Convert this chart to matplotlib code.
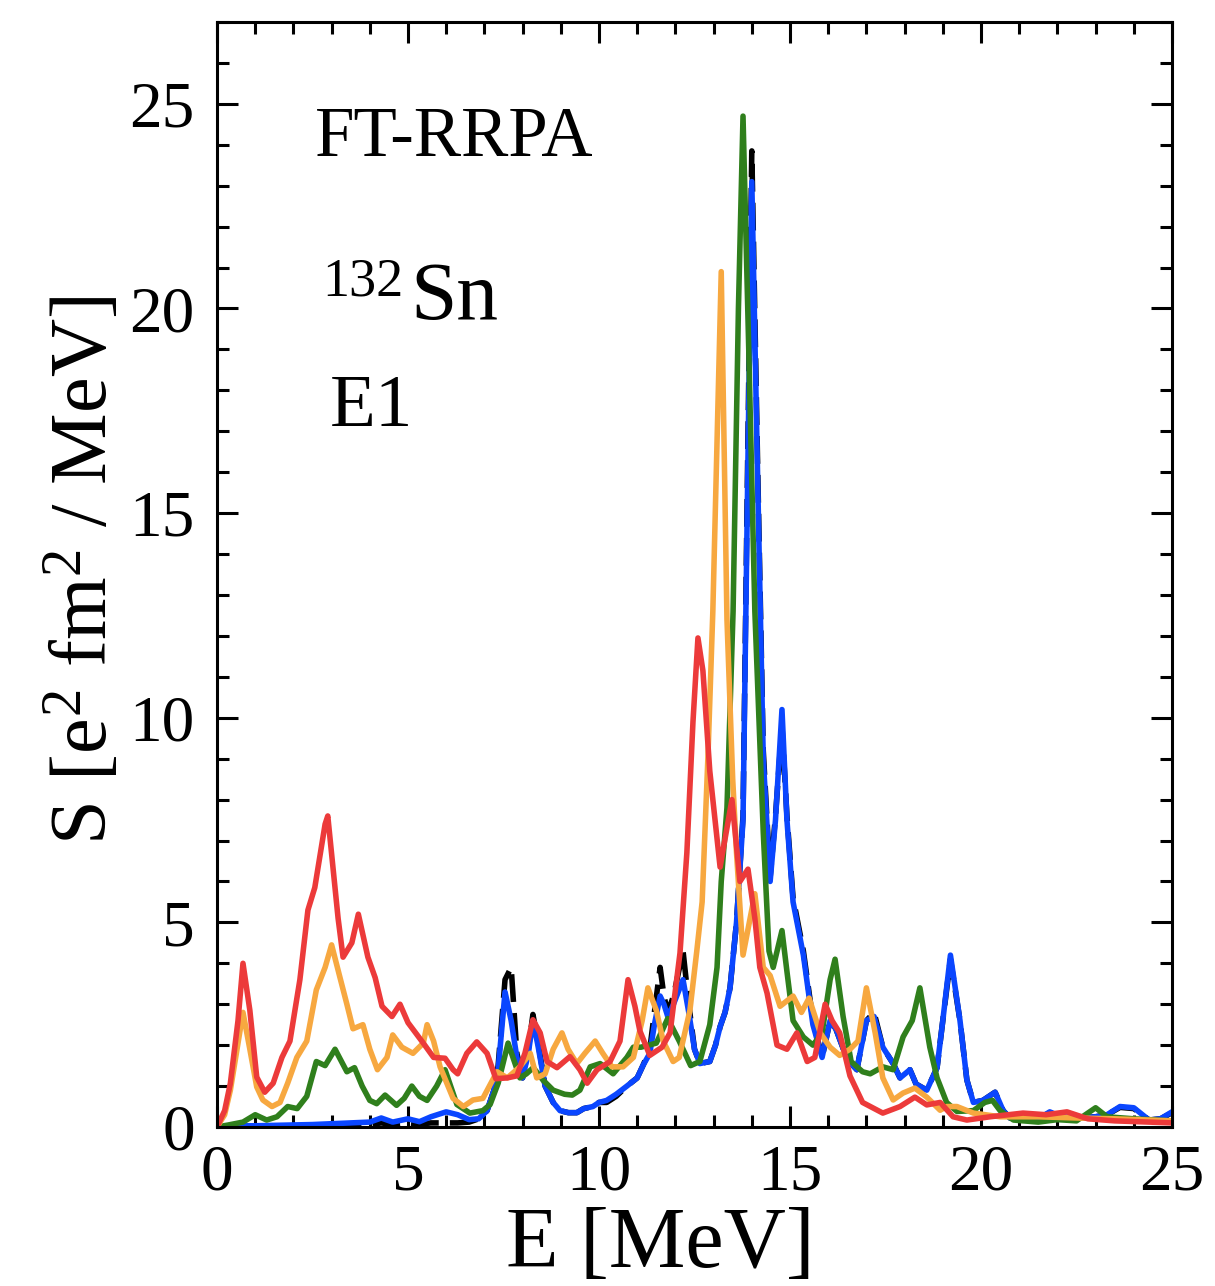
import matplotlib
matplotlib.use("Agg")
import matplotlib.pyplot as plt
from matplotlib.ticker import MultipleLocator

plt.rcParams['font.family'] = ['Liberation Serif', 'DejaVu Serif']
plt.rcParams['mathtext.fontset'] = 'custom'
plt.rcParams['mathtext.rm'] = 'Liberation Serif'
plt.rcParams['mathtext.it'] = 'Liberation Serif:italic'

# ---------------- data ----------------
E_blue = [0.0, 0.5, 1.0, 1.5, 2.0, 2.5, 3.0, 3.5, 4.0, 4.3, 4.6, 5.0, 5.3, 5.6, 6.0, 6.3,
          6.6, 6.85, 7.07, 7.25, 7.36, 7.54, 7.7, 7.85, 8.0, 8.15, 8.27, 8.4, 8.59, 8.8,
          8.98, 9.2, 9.42, 9.6, 9.84, 10.0, 10.2, 10.45, 10.73, 11.0, 11.15, 11.33, 11.45,
          11.6, 11.7, 11.8, 11.95, 12.2, 12.35, 12.5, 12.64, 12.9, 13.05, 13.17, 13.3,
          13.43, 13.6, 13.77, 13.88, 14.0, 14.15, 14.3, 14.48, 14.62, 14.79, 14.92, 15.08,
          15.35, 15.6, 15.84, 16.05, 16.2, 16.5, 16.75, 17.0, 17.2, 17.43, 17.7, 17.88,
          18.14, 18.3, 18.58, 18.85, 19.0, 19.2, 19.45, 19.63, 19.8, 20.05, 20.37, 20.58,
          20.76, 21.2, 21.5, 21.8, 22.1, 22.6, 23.0, 23.3, 23.64, 24.0, 24.4, 24.7, 25.0]
S_blue = [0.0, 0.03, 0.03, 0.04, 0.05, 0.06, 0.08, 0.1, 0.12, 0.22, 0.12, 0.2, 0.13, 0.25,
          0.37, 0.3, 0.18, 0.2, 0.4, 0.9, 1.4, 3.3, 2.6, 1.7, 1.2, 1.8, 2.6, 2.0, 1.0, 0.6,
          0.4, 0.35, 0.35, 0.45, 0.5, 0.6, 0.65, 0.8, 1.0, 1.2, 1.5, 1.8, 2.5, 3.2, 3.0,
          2.7, 3.0, 3.6, 2.8, 1.9, 1.55, 1.6, 2.0, 2.45, 2.8, 3.4, 5.0, 7.5, 15.0, 23.1,
          16.0, 9.0, 6.0, 7.5, 10.2, 7.5, 5.5, 4.2, 2.5, 1.7, 2.6, 2.4, 1.65, 1.4, 2.6,
          2.7, 1.95, 1.55, 1.2, 1.4, 1.05, 0.9, 1.45, 2.6, 4.2, 2.6, 1.15, 0.6, 0.65, 0.85,
          0.4, 0.22, 0.18, 0.2, 0.37, 0.25, 0.22, 0.25, 0.3, 0.5, 0.47, 0.17, 0.2, 0.37]

E_black = E_blue
S_black = [0.0, 0.02, 0.02, 0.02, 0.03, 0.03, 0.04, 0.05, 0.06, 0.1, 0.06, 0.1, 0.07, 0.1,
           0.1, 0.1, 0.12, 0.2, 0.4, 0.9, 1.5, 3.6, 3.9, 1.8, 1.2, 1.9, 2.75, 2.1, 1.0, 0.6,
           0.4, 0.35, 0.35, 0.45, 0.5, 0.6, 0.6, 0.75, 1.0, 1.2, 1.5, 1.9, 2.8, 3.9, 3.2,
           2.8, 3.2, 4.3, 3.0, 1.9, 1.55, 1.6, 2.0, 2.45, 2.8, 3.4, 5.0, 7.6, 15.5, 23.85,
           16.3, 9.2, 6.1, 7.6, 9.8, 7.6, 5.6, 4.3, 2.6, 1.7, 2.6, 2.4, 1.65, 1.4, 2.6,
           2.8, 1.95, 1.55, 1.2, 1.4, 1.05, 0.9, 1.45, 2.6, 4.1, 2.6, 1.15, 0.6, 0.65, 0.85,
           0.4, 0.22, 0.18, 0.2, 0.35, 0.25, 0.22, 0.25, 0.3, 0.48, 0.45, 0.17, 0.2, 0.35]

E_green = [0.0, 0.3, 0.68, 1.0, 1.3, 1.57, 1.85, 2.1, 2.35, 2.6, 2.83, 3.09, 3.4, 3.6, 3.8,
           4.0, 4.18, 4.4, 4.7, 4.9, 5.1, 5.3, 5.5, 5.75, 5.97, 6.28, 6.62, 6.96, 7.15, 7.36,
           7.62, 7.93, 8.1, 8.28, 8.53, 8.8, 9.1, 9.3, 9.5, 9.77, 10.03, 10.37, 10.73, 10.9,
           11.1, 11.5, 11.8, 12.1, 12.4, 12.64, 12.9, 13.09, 13.2, 13.35, 13.51, 13.65,
           13.77, 13.92, 14.08, 14.3, 14.45, 14.56, 14.79, 14.92, 15.08, 15.35, 15.6, 15.84,
           16.05, 16.18, 16.39, 16.6, 16.9, 17.1, 17.43, 17.7, 17.96, 18.2, 18.4, 18.66,
           18.85, 19.1, 19.37, 19.8, 20.1, 20.3, 20.5, 20.85, 21.5, 22.0, 22.5, 23.0, 23.3,
           24.0, 25.0]
S_green = [0.0, 0.05, 0.12, 0.3, 0.17, 0.25, 0.5, 0.45, 0.75, 1.6, 1.5, 1.9, 1.35, 1.45,
           1.0, 0.65, 0.57, 0.78, 0.53, 0.7, 1.0, 0.75, 0.65, 1.0, 1.4, 0.55, 0.34, 0.4,
           0.55, 1.07, 2.05, 1.2, 1.3, 1.45, 1.15, 0.9, 0.8, 0.78, 0.9, 1.47, 1.55, 1.3, 1.7,
           1.95, 1.95, 2.05, 2.65, 2.1, 1.5, 1.6, 2.5, 3.9, 6.0, 7.8, 12.6, 20.0, 24.7, 19.0,
           12.6, 7.2, 4.3, 3.9, 4.8, 3.8, 2.6, 2.2, 2.0, 2.3, 3.6, 4.1, 2.7, 1.6, 1.35, 1.3,
           1.47, 1.4, 2.2, 2.6, 3.4, 1.95, 1.2, 0.6, 0.38, 0.4, 0.6, 0.65, 0.4, 0.17, 0.12,
           0.18, 0.15, 0.47, 0.25, 0.2, 0.15]

E_orange = [0.0, 0.2, 0.35, 0.55, 0.68, 0.86, 1.04, 1.2, 1.44, 1.65, 1.85, 2.09, 2.35, 2.6,
            2.83, 3.0, 3.22, 3.4, 3.56, 3.82, 4.0, 4.2, 4.45, 4.6, 4.84, 5.13, 5.4, 5.5, 5.67,
            5.84, 6.18, 6.45, 6.7, 6.96, 7.33, 7.6, 7.93, 8.2, 8.37, 8.59, 8.8, 9.03, 9.19,
            9.42, 9.63, 9.9, 10.1, 10.34, 10.63, 10.9, 11.13, 11.28, 11.5, 11.68, 11.94, 12.1,
            12.38, 12.56, 12.7, 12.85, 12.98, 13.2, 13.35, 13.5, 13.6, 13.77, 14.08, 14.3,
            14.48, 14.74, 15.08, 15.3, 15.5, 15.79, 16.05, 16.3, 16.57, 16.78, 17.0, 17.23,
            17.43, 17.7, 17.96, 18.27, 18.58, 18.93, 19.1, 19.37, 19.8, 20.5, 21.5, 22.5,
            23.5, 25.0]
S_orange = [0.0, 0.3, 0.9, 2.05, 2.8, 1.9, 0.98, 0.66, 0.5, 0.6, 1.07, 1.7, 2.1, 3.35, 3.9,
            4.45, 3.65, 3.0, 2.4, 2.5, 1.9, 1.4, 1.7, 2.25, 1.95, 1.8, 2.05, 2.5, 2.1, 1.47,
            0.7, 0.5, 0.66, 0.7, 1.35, 1.2, 1.47, 1.8, 1.2, 1.3, 1.9, 2.3, 1.9, 1.55, 1.8,
            2.1, 1.8, 1.47, 1.47, 1.7, 2.6, 3.4, 2.85, 2.1, 1.6, 1.7, 2.85, 4.3, 5.5, 9.0,
            12.6, 20.9, 12.4, 8.5, 6.7, 4.2, 5.7, 3.9, 3.7, 2.95, 3.2, 2.8, 3.15, 2.3, 1.95,
            1.75, 1.9, 2.1, 3.4, 2.3, 1.2, 0.66, 0.83, 0.95, 0.73, 0.41, 0.5, 0.5, 0.34, 0.25,
            0.25, 0.22, 0.2, 0.15]

E_red = [0.0, 0.2, 0.35, 0.55, 0.68, 0.86, 1.04, 1.25, 1.47, 1.7, 1.91, 2.17, 2.38, 2.56,
         2.83, 2.9, 3.17, 3.3, 3.53, 3.7, 3.95, 4.14, 4.32, 4.58, 4.79, 5.0, 5.24, 5.4, 5.67,
         5.97, 6.18, 6.3, 6.54, 6.8, 7.07, 7.3, 7.6, 7.85, 8.06, 8.27, 8.46, 8.64, 8.9, 9.24,
         9.5, 9.69, 9.95, 10.29, 10.55, 10.76, 10.94, 11.07, 11.33, 11.65, 11.86, 12.12,
         12.3, 12.46, 12.59, 12.72, 12.9, 13.17, 13.48, 13.69, 13.9, 14.08, 14.21, 14.4,
         14.66, 14.92, 15.18, 15.45, 15.65, 15.92, 16.1, 16.3, 16.57, 16.9, 17.43, 17.88,
         18.27, 18.58, 18.93, 19.27, 19.63, 20.24, 21.1, 21.7, 22.25, 22.8, 23.5, 25.0]
S_red = [0.0, 0.4, 1.07, 2.6, 4.0, 2.85, 1.22, 0.85, 1.07, 1.7, 2.1, 3.6, 5.3, 5.85, 7.4,
         7.6, 5.1, 4.15, 4.5, 5.2, 4.15, 3.65, 2.95, 2.7, 3.0, 2.55, 2.25, 2.05, 1.7, 1.68,
         1.4, 1.3, 1.8, 2.08, 1.8, 1.18, 1.2, 1.25, 1.8, 2.62, 2.3, 1.6, 1.45, 1.72, 1.4,
         1.07, 1.4, 1.6, 2.1, 3.6, 2.95, 2.35, 1.75, 1.95, 2.3, 4.25, 6.7, 9.9, 11.95, 11.15,
         8.7, 6.35, 8.0, 6.0, 6.3, 5.1, 3.9, 3.27, 2.0, 1.9, 2.3, 1.6, 1.7, 3.0, 2.6, 2.3,
         1.25, 0.6, 0.34, 0.5, 0.73, 0.54, 0.6, 0.25, 0.17, 0.25, 0.34, 0.3, 0.37, 0.2,
         0.15, 0.1]

x_ticks = [0, 5, 10, 15, 20, 25]
y_ticks = [0, 5, 10, 15, 20, 25]

# ---------------- figure ----------------
fig = plt.figure(figsize=(12.15, 12.86), dpi=100)
ax = fig.add_axes([217 / 1215, 1 - 1127 / 1286, (1172 - 217) / 1215, (1127 - 22) / 1286])

lw = 4.0
ax.plot(E_black, S_black, color='black', lw=lw, ls=(0, (5, 2)))
ax.plot(E_blue, S_blue, color='#0a46ff', lw=lw)
ax.plot(E_green, S_green, color='#2f7f1c', lw=lw)
ax.plot(E_orange, S_orange, color='#f7a840', lw=lw)
ax.plot(E_red, S_red, color='#ec3a3a', lw=lw)

ax.set_xlim(0, 25)
ax.set_ylim(0, 27)
ax.set_xticks(x_ticks)
ax.set_yticks(y_ticks)
ax.xaxis.set_minor_locator(MultipleLocator(1))
ax.yaxis.set_minor_locator(MultipleLocator(1))
ax.tick_params(which='both', direction='in', top=True, right=True, width=2.2, colors='black')
ax.tick_params(which='major', length=15, labelsize=47)
ax.tick_params(axis='x', which='major', pad=12)
ax.tick_params(axis='y', which='major', pad=16)
ax.tick_params(which='minor', length=8.5)
for s in ax.spines.values():
    s.set_linewidth(2.2)

ax.set_xlabel('E [MeV]', fontsize=62)
ax.xaxis.set_label_coords(0.464, -0.072)
ax.set_ylabel(r'S [e$^2$ fm$^2$ / MeV]', fontsize=58)
ax.yaxis.set_label_coords(-0.097, 0.504)

ax.text(2.57, 23.73, 'FT-RRPA', fontsize=51, ha='left', va='baseline')
ax.text(2.75, 20.31, '132', fontsize=39, ha='left', va='baseline')
ax.text(5.05, 19.75, 'Sn', fontsize=60, ha='left', va='baseline')
ax.text(2.96, 17.14, 'E1', fontsize=54, ha='left', va='baseline')

fig.savefig('out.png', dpi=100)
